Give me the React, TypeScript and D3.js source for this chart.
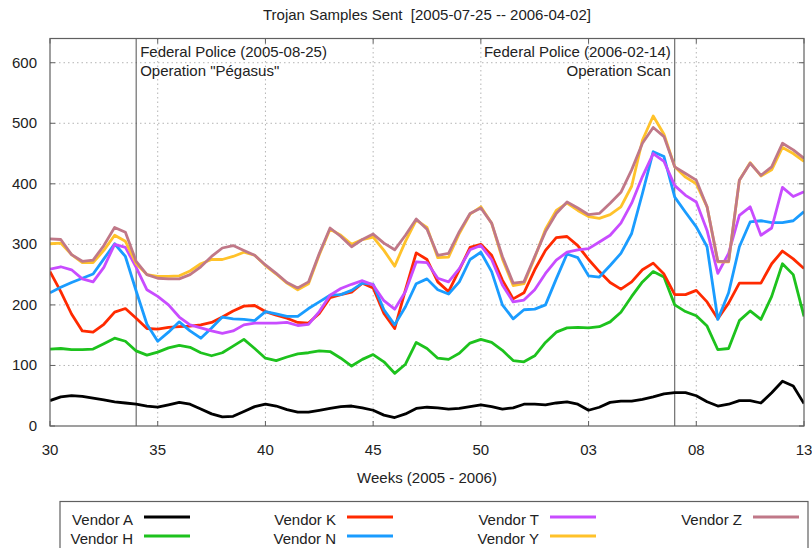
import React from 'react'
import * as d3 from 'd3'

// sample points, in weeks (2005 wk 30 .. 2006 wk 13 -> 30 .. 65)
const weeks = [
  30, 30.5, 31, 31.5, 32, 32.5, 33, 33.5, 34, 34.5,
  35, 35.5, 36, 36.5, 37, 37.5, 38, 38.5, 39, 39.5,
  40, 40.5, 41, 41.5, 42, 42.5, 43, 43.5, 44, 44.5,
  45, 45.5, 46, 46.5, 47, 47.5, 48, 48.5, 49, 49.5,
  50, 50.5, 51, 51.5, 52, 52.5, 53, 53.5, 54, 54.5,
  55, 55.5, 56, 56.5, 57, 57.5, 58, 58.5, 59, 59.5,
  60, 60.5, 61, 61.5, 62, 62.5, 63, 63.5, 64, 64.5,
  65
]

const vendorA = [
  42, 48, 50, 49, 46, 43, 40, 38, 36, 33,
  31, 35, 39, 36, 28, 20, 15, 16, 24, 32,
  36, 33, 27, 23, 23, 26, 29, 32, 33, 30,
  26, 18, 14, 20, 29, 31, 30, 28, 29, 32,
  35, 32, 28, 30, 36, 36, 35, 38, 40, 36,
  26, 31, 39, 41, 41, 44, 48, 53, 55, 55,
  50, 40, 33, 36, 42, 42, 38, 55, 74, 66,
  37
]

const vendorH = [
  127, 128, 126, 126, 127, 136, 145, 140, 124, 117,
  122, 129, 133, 130, 121, 116, 121, 132, 143, 128,
  112, 108, 114, 119, 121, 124, 123, 112, 99, 110,
  118, 106, 87, 102, 138, 128, 112, 110, 120, 137,
  143, 138, 125, 108, 106, 116, 138, 155, 162, 163,
  162, 164, 172, 188, 214, 238, 255, 246, 200, 189,
  182, 165, 126, 128, 174, 190, 176, 214, 268, 250,
  181
]

const vendorK = [
  255, 222, 185, 157, 155, 168, 188, 194, 178, 161,
  160, 163, 164, 165, 167, 171, 180, 190, 198, 199,
  189, 183, 178, 171, 170, 186, 212, 217, 221, 236,
  228, 186, 161, 225, 286, 275, 238, 222, 258, 295,
  300, 282, 241, 210, 220, 258, 290, 311, 313, 298,
  275, 255, 237, 226, 238, 258, 269, 251, 217, 217,
  224, 205, 177, 203, 236, 236, 236, 268, 289, 276,
  260
]

const vendorN = [
  220, 229, 237, 244, 251, 276, 301, 280, 223, 168,
  140, 155, 172, 157, 145, 162, 180, 177, 176, 174,
  189, 185, 181, 181, 194, 205, 216, 217, 224, 236,
  234, 192, 167, 197, 235, 243, 225, 218, 238, 275,
  287, 255, 200, 177, 192, 193, 200, 243, 284, 278,
  248, 246, 265, 285, 318, 384, 453, 445, 378, 353,
  329, 296, 176, 220, 296, 337, 339, 336, 336, 339,
  354
]

const vendorT = [
  259, 263, 258, 243, 238, 262, 300, 295, 262, 225,
  214, 200, 180, 167, 162, 157, 153, 157, 167, 170,
  170, 170, 171, 166, 168, 189, 216, 227, 234, 240,
  233, 207, 193, 222, 271, 270, 244, 238, 260, 291,
  298, 275, 233, 205, 208, 225, 252, 274, 287, 291,
  293, 304, 315, 335, 368, 412, 450, 437, 397, 381,
  370, 323, 252, 285, 348, 362, 315, 327, 394, 379,
  387
]

const vendorY = [
  301, 302, 283, 270, 270, 290, 315, 305, 268, 250,
  247, 247, 248, 256, 268, 275, 275, 280, 287, 282,
  265, 251, 236, 225, 235, 283, 325, 315, 300, 308,
  312, 290, 264, 305, 340, 328, 278, 279, 318, 350,
  362, 335, 276, 232, 235, 278, 325, 356, 368, 356,
  346, 343, 349, 362, 396, 472, 512, 482, 428, 411,
  400, 362, 271, 271, 406, 435, 413, 423, 460, 450,
  437
]

const vendorZ = [
  309, 308, 283, 272, 274, 298, 328, 320, 272, 250,
  244, 243, 243, 250, 263, 280, 294, 298, 290, 282,
  266, 252, 237, 228, 238, 285, 327, 313, 296, 308,
  317, 302, 291, 315, 342, 325, 282, 285, 321, 351,
  360, 335, 280, 236, 238, 280, 321, 351, 370, 360,
  349, 351, 368, 386, 423, 467, 493, 478, 428, 417,
  406, 362, 272, 272, 406, 434, 414, 428, 467, 456,
  442
]

const seriesNames = ['Vendor A', 'Vendor H', 'Vendor K', 'Vendor N', 'Vendor T', 'Vendor Y', 'Vendor Z']
const seriesColors = ['#000000', '#1dc21d', '#ff2a00', '#1a9cff', '#c84cff', '#ffc22a', '#c07888']
const seriesValues = [vendorA, vendorH, vendorK, vendorN, vendorT, vendorY, vendorZ]

const xTicks = [30, 35, 40, 45, 50, 55, 60, 65]
const xTickLabels = ['30', '35', '40', '45', '50', '03', '08', '13']
const yTicks = [0, 100, 200, 300, 400, 500, 600]

const eventWeeks = [34, 59]
const eventLines = [
  ['Federal Police (2005-08-25)', 'Operation "Pégasus"'],
  ['Federal Police (2006-02-14)', 'Operation Scan']
]

const W = 812
const H = 548
const left = 50
const right = 804
const top = 38.5
const bottom = 426
const font = '"Liberation Sans", Arial, sans-serif'

const x = d3.scaleLinear().domain([30, 65]).range([left, right])
const y = d3.scaleLinear().domain([0, 640]).range([bottom, top])

export default function App() {
  const line = d3.line<number>()
    .x((_, i) => x(weeks[i]))
    .y(d => y(d))

  return (
    <svg width={W} height={H} style={{ position: 'absolute', left: 0, top: 0, background: '#fff' }}
      fontFamily={font} fontSize={15} fill="#222">
      <defs>
        <clipPath id="plot">
          <rect x={left} y={top} width={right - left} height={bottom - top} />
        </clipPath>
      </defs>

      <text x={(left + right) / 2} y={20} textAnchor="middle">
        Trojan Samples Sent {'\u00a0'}[2005-07-25 -- 2006-04-02]
      </text>

      {/* grid */}
      {yTicks.filter(t => t > 0).map(t => (
        <line key={'gy' + t} x1={left} x2={right} y1={y(t)} y2={y(t)}
          stroke="#b4b4b4" strokeWidth={1} strokeDasharray="1.5,3" />
      ))}
      {xTicks.filter(t => t > 30 && t < 65).map(t => (
        <line key={'gx' + t} x1={x(t)} x2={x(t)} y1={top} y2={bottom}
          stroke="#b4b4b4" strokeWidth={1} strokeDasharray="1.5,3" />
      ))}

      {/* ticks, mirrored */}
      {yTicks.map(t => (
        <g key={'ty' + t} stroke="#606060" strokeWidth={1}>
          <line x1={left} x2={left + 5} y1={y(t)} y2={y(t)} />
          <line x1={right - 5} x2={right} y1={y(t)} y2={y(t)} />
        </g>
      ))}
      {xTicks.map(t => (
        <g key={'tx' + t} stroke="#606060" strokeWidth={1}>
          <line x1={x(t)} x2={x(t)} y1={bottom} y2={bottom - 5} />
          <line x1={x(t)} x2={x(t)} y1={top} y2={top + 5} />
        </g>
      ))}

      {/* event markers */}
      {eventWeeks.map((w, i) => (
        <g key={'ev' + w}>
          <line x1={x(w)} x2={x(w)} y1={top} y2={bottom} stroke="#505050" strokeWidth={1} />
          {eventLines[i].map((s, j) => (
            <text key={j} x={i === 0 ? x(w) + 4 : x(w) - 4} y={56.5 + j * 19}
              textAnchor={i === 0 ? 'start' : 'end'}>{s}</text>
          ))}
        </g>
      ))}

      {/* series */}
      <g clipPath="url(#plot)">
        {seriesValues.map((vals, i) => (
          <path key={seriesNames[i]} d={line(vals) || ''} fill="none"
            stroke={seriesColors[i]} strokeWidth={2.8} strokeLinejoin="round" />
        ))}
      </g>

      <rect x={left} y={top} width={right - left} height={bottom - top}
        fill="none" stroke="#606060" strokeWidth={1.2} />

      {/* axis labels */}
      {yTicks.map(t => (
        <text key={'ly' + t} x={37} y={y(t) + 5} textAnchor="end">{t}</text>
      ))}
      {xTicks.map((t, i) => (
        <text key={'lx' + t} x={x(t)} y={455} textAnchor="middle">{xTickLabels[i]}</text>
      ))}
      <text x={(left + right) / 2} y={483} textAnchor="middle">Weeks (2005 - 2006)</text>

      {/* legend */}
      <rect x={60} y={501.5} width={748} height={60} fill="none" stroke="#606060" strokeWidth={1.2} />
      {seriesNames.map((n, i) => {
        const col = Math.floor(i / 2)
        const row = i % 2
        const tx = 133 + col * 203
        const ty = 520 + row * 19
        return (
          <g key={'lg' + n}>
            <text x={tx} y={ty + 5} textAnchor="end">{n}</text>
            <line x1={tx + 11} x2={tx + 57} y1={ty - 3} y2={ty - 3}
              stroke={seriesColors[i]} strokeWidth={2.8} />
          </g>
        )
      })}
    </svg>
  )
}
